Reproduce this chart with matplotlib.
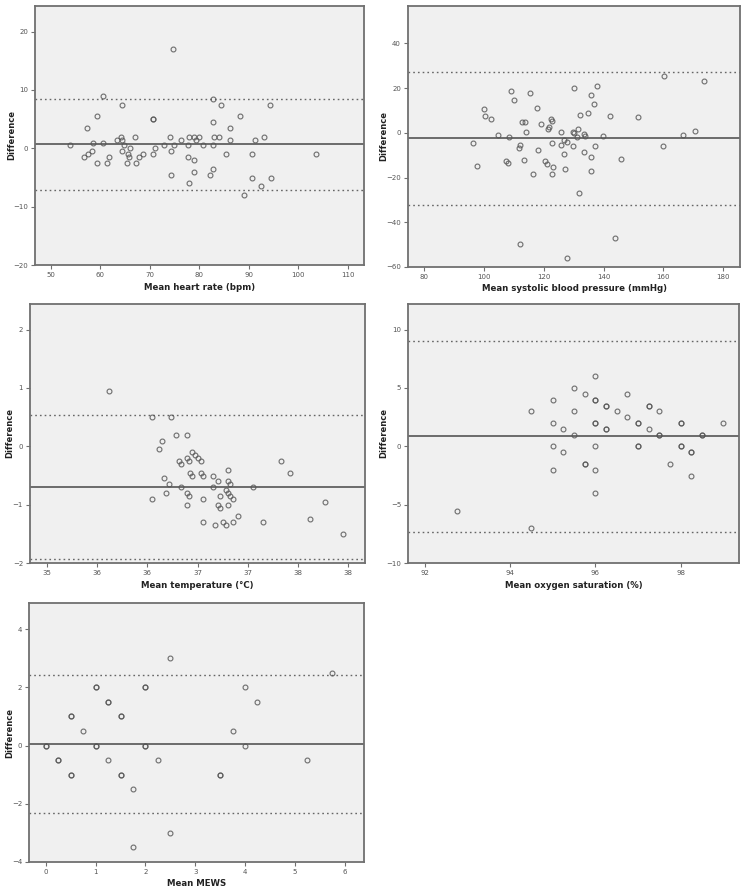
import matplotlib
matplotlib.use("Agg")
import matplotlib.pyplot as plt
from matplotlib.ticker import FixedLocator, FixedFormatter

# ---------------- data ----------------
hr_x = [53.8, 57.3, 56.8, 57.6, 58.3, 58.6, 59.3, 59.3, 60.5, 60.6, 61.3, 61.8, 63.3, 64.1, 64.3,
        64.4, 64.3, 64.8, 65.4, 65.5, 65.8, 66.1, 67.1, 67.3, 67.8, 68.6, 70.6, 70.6, 70.6, 71.1,
        72.8, 74.1, 74.3, 74.6, 74.3, 74.9, 76.4,
        82.8, 84.3, 94.3, 88.3, 82.8, 86.3, 77.9, 79.0, 79.9, 79.3, 83.0, 84.0, 86.3, 91.3, 93.0,
        77.7, 80.7, 82.8, 85.5, 90.6, 103.6, 77.7, 79.0, 79.0, 82.8, 82.2, 78.0, 90.6, 94.5, 92.4, 89.1]
hr_y = [0.5, 3.5, -1.5, -1.0, -0.5, 1.0, 5.5, -2.5, 9.0, 1.0, -2.5, -1.5, 1.5, 2.0, 7.5,
        1.5, -0.5, 0.5, -2.5, -1.0, -1.5, 0.0, 2.0, -2.5, -1.5, -1.0, 5.0, 5.0, -1.0, 0.0,
        0.5, 2.0, -0.5, 17.0, -4.5, 0.5, 1.5,
        8.5, 7.5, 7.5, 5.5, 4.5, 3.5, 2.0, 2.0, 2.0, 1.5, 2.0, 2.0, 1.5, 1.5, 2.0,
        0.5, 0.5, 0.5, -1.0, -1.0, -1.0, -1.5, -2.0, -4.0, -3.5, -4.5, -6.0, -5.0, -5.0, -6.5, -8.0]
hr_lines = [0.7, 8.5, -7.1]

sbp_x = [96.4, 97.7, 99.9, 100.5, 102.3, 104.8, 108.3, 109.0, 110.0, 107.5, 108.0, 111.9, 111.8,
         112.7, 113.8, 114.0, 113.3, 111.9, 115.3, 117.8, 118.1, 116.5, 119.2, 120.4, 121.2, 121.4,
         121.8, 122.4, 122.6, 122.6, 123.1, 122.6,
         130.1, 137.7, 135.7, 136.7, 134.7, 132.1, 142.3, 151.6, 160.2, 173.4, 125.9, 129.9, 130.2,
         131.4, 133.3, 133.9, 131.2, 126.7, 127.9, 125.9, 129.9, 137.2, 139.9, 126.9, 133.4, 135.7,
         145.8, 127.2, 135.7, 131.7, 143.7, 127.9, 160.0, 166.4, 170.4]
sbp_y = [-4.5, -15.0, 10.5, 7.5, 6.0, -1.0, -2.0, 18.5, 14.5, -12.5, -13.5, -5.5, -7.0,
         5.0, 5.0, 0.5, -12.0, -49.5, 18.0, 11.0, -7.5, -18.5, 4.0, -12.5, -14.0, 1.5,
         2.5, 6.0, 5.5, -4.5, -15.5, -18.5,
         20.0, 21.0, 17.0, 13.0, 9.0, 8.0, 7.5, 7.0, 25.5, 23.0, 0.5, 0.5, 0.0,
         1.5, -0.5, -1.5, -2.0, -3.0, -4.0, -5.5, -6.0, -6.0, -1.5, -9.5, -8.5, -11.0,
         -11.5, -16.0, -17.0, -27.0, -47.0, -56.0, -6.0, -1.0, 1.0]
sbp_lines = [-2.5, 27.2, -32.4]

temp_x = [35.62, 36.05, 36.24, 36.15, 36.12, 36.29, 36.32, 36.34, 36.17, 36.22, 36.19, 36.05, 36.34,
          36.40, 36.40, 36.42, 36.45, 36.48, 36.50, 36.53, 36.43, 36.45, 36.53, 36.55, 36.65, 36.70,
          36.80, 36.80, 36.82, 36.65, 37.05, 36.40, 36.42, 36.78, 36.80, 36.82, 36.85, 36.72, 36.40,
          36.55, 36.70, 36.72, 36.80, 36.55, 36.67, 36.75, 36.78, 36.85, 36.90, 37.15, 37.33, 37.42,
          37.62, 37.77, 37.95]
temp_y = [0.95, 0.50, 0.50, 0.10, -0.05, 0.20, -0.25, -0.30, -0.55, -0.65, -0.80, -0.90, -0.70,
          0.20, -0.20, -0.25, -0.10, -0.15, -0.20, -0.25, -0.45, -0.50, -0.45, -0.50, -0.50, -0.60,
          -0.40, -0.60, -0.65, -0.70, -0.70, -0.80, -0.85, -0.75, -0.80, -0.85, -0.90, -0.85, -1.00,
          -0.90, -1.00, -1.05, -1.00, -1.30, -1.35, -1.30, -1.35, -1.30, -1.20, -1.30, -0.25, -0.45,
          -1.25, -0.95, -1.50]
temp_lines = [-0.70, 0.53, -1.93]
temp_ticks = [35.0, 35.5, 36.0, 36.5, 37.0, 37.5, 38.0]
temp_tick_labels = ["35", "36", "36", "37", "37", "38", "38"]

spo2_x = [92.75, 94.5, 94.5, 95.0, 95.0, 95.0, 95.0,
          95.25, 95.25, 95.5, 95.5, 95.5, 95.75, 95.75, 95.75, 96.0, 96.0, 96.0, 96.0, 96.0, 96.0,
          96.0, 96.0, 96.25, 96.25, 96.25, 96.25, 96.5, 96.75, 96.75, 97.0, 97.0, 97.0, 97.0,
          97.25, 97.25, 97.25, 97.5, 97.5, 97.5, 97.75, 98.0, 98.0, 98.0, 98.0, 98.25, 98.25,
          98.25, 98.5, 98.5, 99.0]
spo2_y = [-5.5, 3.0, -7.0, 4.0, 2.0, 0.0, -2.0,
          1.5, -0.5, 5.0, 3.0, 1.0, 4.5, -1.5, -1.5, 6.0, 4.0, 4.0, 2.0, 2.0, 0.0,
          -2.0, -4.0, 3.5, 3.5, 1.5, 1.5, 3.0, 4.5, 2.5, 2.0, 2.0, 0.0, 0.0,
          3.5, 3.5, 1.5, 3.0, 1.0, 1.0, -1.5, 2.0, 2.0, 0.0, 0.0, -0.5, -0.5,
          -2.5, 1.0, 1.0, 2.0]
spo2_lines = [0.86, 9.06, -7.34]

mews_x = [0, 0, 0.25, 0.25, 0.5, 0.5, 0.5, 0.5, 0.75, 1.0, 1.0, 1.0, 1.0, 1.25, 1.25, 1.25,
          1.5, 1.5, 1.5, 1.5, 1.75, 1.75, 2.0, 2.0, 2.0, 2.0, 2.25, 2.5, 2.5,
          3.5, 3.5, 3.75, 4.0, 4.0, 4.25, 5.25, 5.75]
mews_y = [0, 0, -0.5, -0.5, 1.0, 1.0, -1.0, -1.0, 0.5, 2.0, 2.0, 0, 0, 1.5, 1.5, -0.5,
          1.0, 1.0, -1.0, -1.0, -1.5, -3.5, 2.0, 2.0, 0, 0, -0.5, 3.0, -3.0,
          -1.0, -1.0, 0.5, 2.0, 0, 1.5, -0.5, 2.5]
mews_lines = [0.05, 2.41, -2.30]

panels = [
    dict(x=hr_x, y=hr_y, lines=hr_lines, xlabel="Mean heart rate (bpm)",
         xlim=(46.8, 113.3), ylim=(-20, 24.4), xticks=[50, 60, 70, 80, 90, 100, 110],
         yticks=[-20, -10, 0, 10, 20], box=(35, 6, 364, 265), ylx=12, xly=288),
    dict(x=sbp_x, y=sbp_y, lines=sbp_lines, xlabel="Mean systolic blood pressure (mmHg)",
         xlim=(74.6, 185.6), ylim=(-60, 56.7), xticks=[80, 100, 120, 140, 160, 180],
         yticks=[-60, -40, -20, 0, 20, 40], box=(408, 6, 740, 267), ylx=384, xly=289),
    dict(x=temp_x, y=temp_y, lines=temp_lines, xlabel="Mean temperature (°C)",
         xlim=(34.83, 38.17), ylim=(-2, 2.44), xticks=temp_ticks, xticklabels=temp_tick_labels,
         yticks=[-2, -1, 0, 1, 2], box=(30, 304, 365, 563), ylx=10, xly=585),
    dict(x=spo2_x, y=spo2_y, lines=spo2_lines, xlabel="Mean oxygen saturation (%)",
         xlim=(91.61, 99.37), ylim=(-10, 12.2), xticks=[92, 94, 96, 98],
         yticks=[-10, -5, 0, 5, 10], box=(408, 304, 739, 563), ylx=384, xly=585),
    dict(x=mews_x, y=mews_y, lines=mews_lines, xlabel="Mean MEWS",
         xlim=(-0.34, 6.39), ylim=(-4, 4.9), xticks=[0, 1, 2, 3, 4, 5, 6],
         yticks=[-4, -2, 0, 2, 4], box=(29, 603, 364, 862), ylx=10, xly=884),
]

W, H = 744, 893
fig = plt.figure(figsize=(W / 100, H / 100), dpi=100)
fig.patch.set_facecolor("white")

frame_col = "#707070"
for p in panels:
    x0, y0, x1, y1 = p["box"]
    ax = fig.add_axes([x0 / W, 1 - y1 / H, (x1 - x0) / W, (y1 - y0) / H])
    ax.set_facecolor("#f0f0f0")
    for s in ax.spines.values():
        s.set_color(frame_col)
        s.set_linewidth(1.3)
    mean, up, lo = p["lines"]
    ax.axhline(mean, color="#555555", lw=1.2, zorder=2)
    ax.axhline(up, color="#666666", lw=1.0, ls=(0, (1.2, 2.2)), zorder=2)
    ax.axhline(lo, color="#666666", lw=1.0, ls=(0, (1.2, 2.2)), zorder=2)
    ax.plot(p["x"], p["y"], ls="none", marker="o", ms=3.5, mfc="none",
            mec="#555555", mew=0.8, alpha=0.85, zorder=3)
    ax.set_xlim(*p["xlim"])
    ax.set_ylim(*p["ylim"])
    ax.xaxis.set_major_locator(FixedLocator(p["xticks"]))
    if "xticklabels" in p:
        ax.xaxis.set_major_formatter(FixedFormatter(p["xticklabels"]))
    ax.set_yticks(p["yticks"])
    ax.tick_params(axis="both", direction="out", length=3, width=0.8, color=frame_col,
                   labelsize=5, labelcolor="#555555", pad=2)
    ax.set_xlabel(p["xlabel"], fontsize=6.2, fontweight="bold", color="#222222",
                  va="center")
    ax.set_ylabel("Difference", fontsize=6.0, fontweight="bold", color="#222222",
                  va="center")
    ax.xaxis.set_label_coords(0.5, -(p["xly"] - y1) / (y1 - y0))
    ax.yaxis.set_label_coords((p["ylx"] - x0) / (x1 - x0), 0.5)

fig.savefig("out.png", dpi=100, facecolor="white")
